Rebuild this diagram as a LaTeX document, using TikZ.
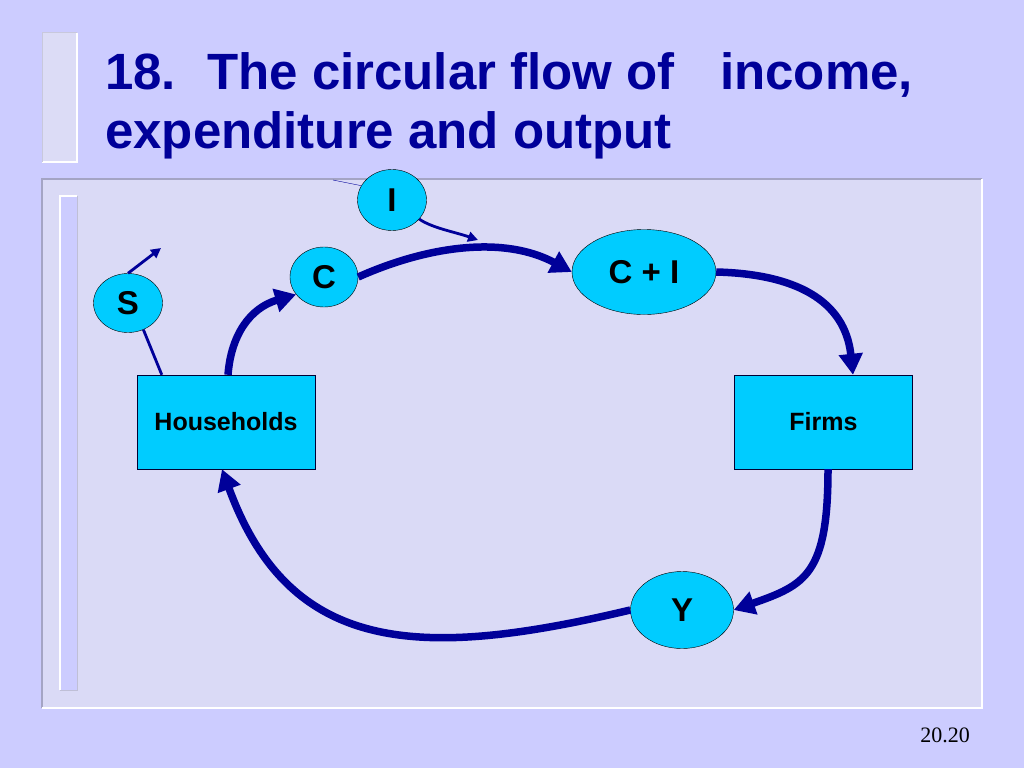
\documentclass[tikz,border=0pt]{standalone}
\usepackage{fontspec}
\setmainfont{Liberation Sans}
\newfontfamily\pagefont{Liberation Serif}
\usepackage{xcolor}
\usepackage{tikz}
\usetikzlibrary{calc}
\usetikzlibrary{shapes.geometric}
\usetikzlibrary{arrows.meta}
\definecolor{slidebg}{HTML}{CCCCFF}
\definecolor{panelbg}{HTML}{DADAF6}
\definecolor{stripbg}{HTML}{DCDCF6}
\definecolor{edgegray}{HTML}{A4A4C4}
\definecolor{flowblue}{HTML}{000099}
\definecolor{boxcyan}{HTML}{00CCFF}

\begin{document}
\begin{tikzpicture}[x=1pt,y=-1pt,
  oval/.style={ellipse,draw=black,thin,fill=boxcyan,inner sep=0pt,font=\bfseries\fontsize{33}{38}\selectfont},
  sector/.style={rectangle,draw=black!80!blue,thin,fill=boxcyan,minimum width=178pt,minimum height=94pt,inner sep=0pt,font=\bfseries\fontsize{25}{30}\selectfont},
  flow/.style={flowblue,line width=7.5pt,-{Triangle[length=21pt,width=23pt]}},
  leak/.style={flowblue,line width=2.8pt}]
\useasboundingbox (0,0) rectangle (1024,768);
\fill[slidebg] (0,0) rectangle (1024,768);

% title strip and panel
\fill[stripbg] (42,33) rectangle (77,162);
\draw[white,line width=1.5pt] (42,162) -- (77,162) -- (77,33);
\draw[edgegray!60,line width=1pt] (42,162) -- (42,33) -- (77,33);
\fill[panelbg] (42,179) rectangle (982,708);
\draw[edgegray,line width=1.2pt] (42,708) -- (42,179) -- (982,179);
\draw[white,line width=1.5pt] (42,708) -- (982,708) -- (982,179);
\fill[slidebg] (60,196) rectangle (77,690);
\draw[white,line width=1.5pt] (60,690) -- (60,196) -- (77,196);
\draw[edgegray!70,line width=1pt] (60,690) -- (77,690) -- (77,196);

% title
\node[anchor=base west,inner sep=0pt,flowblue,font=\bfseries\fontsize{51}{59}\selectfont] (title1) at (105,89)
  {\makebox[102pt][l]{18.}\makebox[513pt][l]{The circular flow of}income,};
\node[anchor=base west,inner sep=0pt,flowblue,font=\bfseries\fontsize{51}{59}\selectfont] (title2) at (105,148)
  {expenditure and output};

% sectors
\node[sector] (hh) at (226,422) {Households};
\node[sector] (firms) at (823.5,422) {Firms};

% flows
\node[oval,minimum width=69pt,minimum height=61pt] (inv) at (392,200) {I};
\node[oval,minimum width=68pt,minimum height=60pt] (cons) at (324,277) {C};
\node[oval,minimum width=144pt,minimum height=85pt] (spend) at (644,272) {C + I};
\node[oval,minimum width=69pt,minimum height=59pt] (sav) at (128,303) {S};
\node[oval,minimum width=103pt,minimum height=77pt] (inc) at (682,610) {Y};

\coordinate (invin) at (333,180);
\coordinate (invend) at (478,240);
\coordinate (savend) at (161,248);

% circular flow
\draw[flow] ($(hh.north)+(2,0)$) .. controls (231,335) and (250,308) .. (cons.212);
\draw[flow] (cons.east) .. controls (430,245) and (505,236) .. (spend.west);
\draw[flow] (spend.east) .. controls (795,274) and (845,300) .. ($(firms.north)+(29.5,0)$);
\draw[flow] ($(firms.south)+(4.5,0)$) .. controls (828,575) and (805,585) .. (inc.east);
\draw[flow] (inc.west) .. controls (420,660) and (290,655) .. ($(hh.south)+(-4,0)$);

% injection and leakage
\draw[flowblue,thin] (invin) -- (inv.155);
\draw[leak,-{Triangle[length=10pt,width=10pt]}] (inv.-35) .. controls (432,228) and (455,232) .. (invend);
\draw[leak] ($(hh.north west)+(25,0)$) -- (sav.-60);
\draw[leak,-{Triangle[length=10pt,width=10pt]}] (sav.north) -- (savend);

% slide number
\node[anchor=base east,inner sep=0pt,font=\pagefont\fontsize{22}{26}\selectfont] (pageno) at (970,742) {20.20};
\end{tikzpicture}
\end{document}
